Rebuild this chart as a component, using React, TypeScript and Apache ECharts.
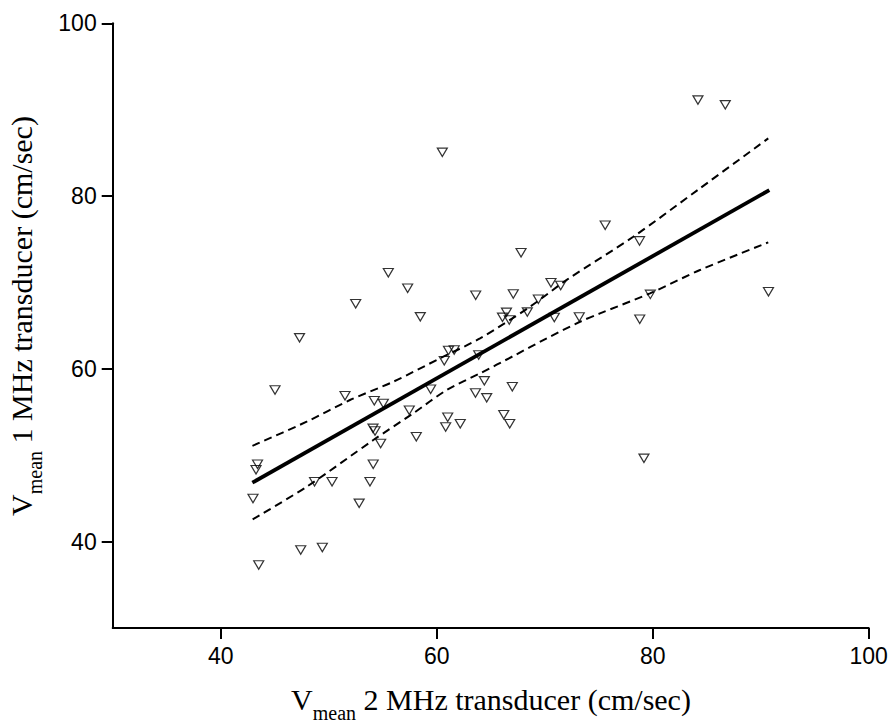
import React, { useEffect, useRef } from "react";
import * as echarts from "echarts";

// Scatter values (x: Vmean 2 MHz, y: Vmean 1 MHz)
const pointX = [
  47.3, 45.03, 51.51, 54.22, 55.06, 61.09, 61.62, 60.7, 63.89, 59.44,
  64.41, 63.59, 64.63, 57.46, 61.02, 60.83, 62.18, 66.21, 66.76, 58.11,
  54.1, 54.29, 54.81, 43.41, 43.27, 54.12, 48.69, 50.31, 53.82, 42.99,
  52.82, 47.41, 49.41, 43.52, 60.52, 55.52, 57.31, 52.5, 63.61, 58.48,
  66.46, 66.09, 66.72, 84.19, 86.72, 75.6, 78.78, 67.81, 70.58, 71.48,
  67.09, 69.41, 68.39, 70.89, 73.2, 79.78, 78.8, 90.72, 67.0, 79.19,
];
const pointY = [
  63.59, 57.55, 56.89, 56.31, 55.98, 62.12, 62.18, 60.93, 61.6, 57.63,
  58.61, 57.2, 56.64, 55.2, 54.39, 53.26, 53.65, 54.69, 53.65, 52.14,
  53.11, 52.8, 51.35, 48.96, 48.32, 48.96, 46.93, 46.93, 46.93, 44.99,
  44.43, 39.03, 39.32, 37.29, 85.06, 71.12, 69.33, 67.53, 68.52, 66.02,
  66.54, 65.96, 65.65, 91.11, 90.56, 76.62, 74.81, 73.44, 69.97, 69.64,
  68.66, 68.06, 66.57, 65.94, 66.0, 68.62, 65.74, 68.92, 57.93, 49.64,
];

// Regression line
const fitX = [42.93, 90.8];
const fitY = [46.82, 80.69];

// Upper confidence band
const upperX = [42.94, 47.96, 51.97, 55.98, 60.31, 64.01, 68.64, 72.04, 78.2, 84.38, 90.7];
const upperY = [51.09, 53.88, 56.39, 58.51, 61.22, 63.53, 67.19, 70.3, 75.29, 80.9, 86.68];

// Lower confidence band
const lowerX = [42.96, 47.96, 54.13, 57.83, 60.93, 64.01, 67.09, 70.19, 73.27, 75.12, 79.75, 84.38, 90.7];
const lowerY = [42.58, 46.35, 51.76, 54.85, 57.55, 59.48, 61.48, 63.53, 65.45, 66.42, 68.74, 71.44, 74.64];

const xTicks = [40, 60, 80, 100];
const yTicks = [40, 60, 80, 100];

const xTitleMain = " 2 MHz transducer (cm/sec)";
const yTitleMain = " 1 MHz transducer (cm/sec)";

const zip = (a: number[], b: number[]) => a.map((v, i) => [v, b[i]]);

export default function App() {
  const ref = useRef<HTMLDivElement>(null);
  useEffect(() => {
    if (!ref.current) return;
    const chart = echarts.init(ref.current, null, { renderer: "svg" });
    const serif = "'Liberation Serif', 'Times New Roman', serif";
    const sans = "'Liberation Sans', Arial, sans-serif";
    const rich = {
      v: { fontFamily: serif, fontSize: 30, lineHeight: 46, color: "#000" },
      s: { fontFamily: serif, fontSize: 20, lineHeight: 20, verticalAlign: "bottom", color: "#000" },
    };
    const axisCommon = (ticks: number[]) => ({
      type: "value" as const,
      min: 30,
      max: 100,
      axisLine: { show: true, onZero: false, lineStyle: { color: "#000", width: 2 } },
      axisTick: { show: true, length: 11, customValues: ticks, lineStyle: { color: "#000", width: 2 } },
      axisLabel: { customValues: ticks, fontSize: 23, fontFamily: sans, color: "#000", margin: 16 },
      splitLine: { show: false },
    });
    chart.setOption({
      animation: false,
      backgroundColor: "#fff",
      grid: { left: 112.7, right: 25.3, top: 23.3, bottom: 94, containLabel: false },
      xAxis: axisCommon(xTicks),
      yAxis: axisCommon(yTicks),
      graphic: [
        {
          type: "text",
          x: 491,
          y: 699.5,
          style: { text: "{v|V}{s|mean}{v|" + xTitleMain + "}", rich, align: "center", verticalAlign: "middle" },
        },
        {
          type: "text",
          x: 21.5,
          y: 316,
          rotation: Math.PI / 2,
          style: { text: "{v|V}{s|mean}{v|" + yTitleMain + "}", rich, align: "center", verticalAlign: "middle" },
        },
      ],
      series: [
        {
          type: "line",
          data: zip(upperX, upperY),
          showSymbol: false,
          smooth: 0.3,
          lineStyle: { color: "#000", width: 2, type: [8, 5] },
          z: 2,
        },
        {
          type: "line",
          data: zip(lowerX, lowerY),
          showSymbol: false,
          smooth: 0.3,
          lineStyle: { color: "#000", width: 2, type: [8, 5] },
          z: 2,
        },
        {
          type: "line",
          data: zip(fitX, fitY),
          showSymbol: false,
          lineStyle: { color: "#000", width: 3.8 },
          z: 2,
        },
        {
          type: "scatter",
          data: zip(pointX, pointY),
          symbol: "path://M0,0L10,0L5,9Z",
          symbolSize: [10, 8.5],
          itemStyle: { color: "rgba(255,255,255,0)", borderColor: "#000", borderWidth: 1.2 },
          z: 3,
        },
      ],
    });
    return () => chart.dispose();
  }, []);
  return <div ref={ref} style={{ position: "fixed", left: 0, top: 0, width: 894, height: 722 }} />;
}
